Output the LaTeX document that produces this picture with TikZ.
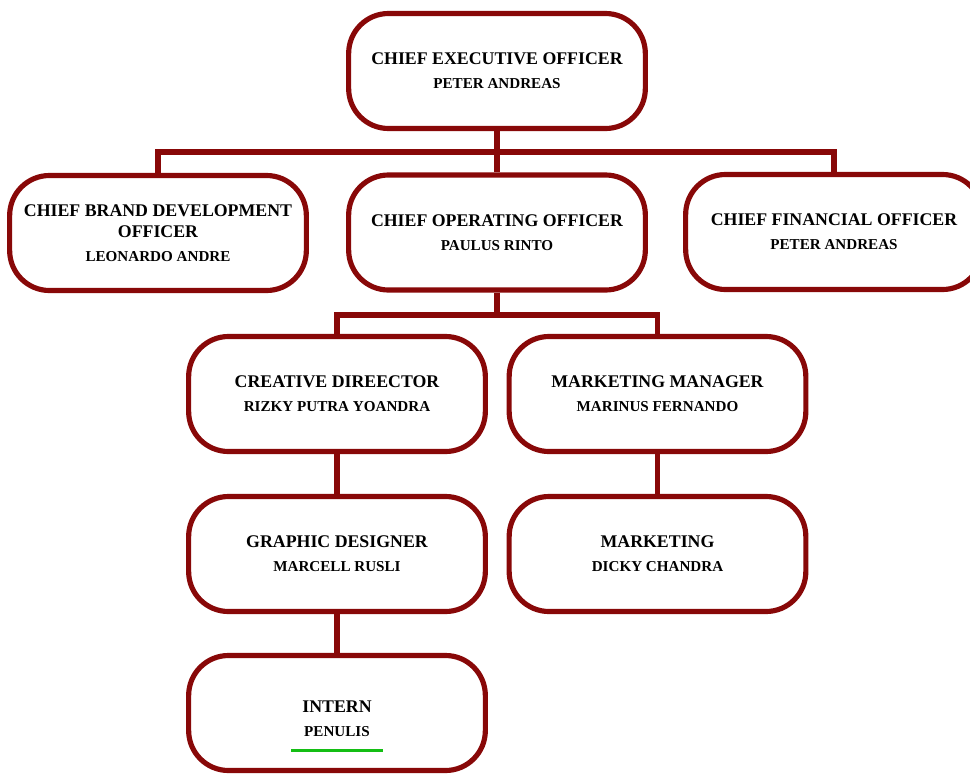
\documentclass[tikz,border=0pt]{standalone}
\usepackage{fontspec}
\setmainfont{Liberation Serif}
\usetikzlibrary{positioning}
\definecolor{boxred}{RGB}{136,8,8}
\definecolor{markgreen}{RGB}{20,190,20}
\tikzset{
  post/.style={draw=boxred, line width=4.4pt, rounded corners=34pt, fill=white,
    minimum width=8.9cm, minimum height=3.45cm, align=center, inner sep=2pt,
    font=\bfseries},
  link/.style={draw=boxred, line width=4.4pt},
}
\newcommand{\titlesize}{\fontsize{15.2}{18}\selectfont}
\newcommand{\namesize}{\fontsize{12.9}{14}\selectfont}
\newcommand{\jobtitle}[2]{\titlesize #1\\[8.5pt]\namesize #2}

\begin{document}
\begin{tikzpicture}[x=0.03cm,y=-0.03cm]
    \useasboundingbox (0,0) rectangle (970,774);
    % boxes
    \node[post] (ceo) at (497,71) {\jobtitle{CHIEF EXECUTIVE OFFICER}{PETER ANDREAS}};
    \node[post] (cbdo) at (158,233) {\jobtitle{CHIEF BRAND DEVELOPMENT\\[6pt]\titlesize OFFICER}{LEONARDO ANDRE}};
    \node[post] (coo) at (497,232.5) {\jobtitle{CHIEF OPERATING OFFICER}{PAULUS RINTO}};
    \node[post] (cfo) at (834,232) {\jobtitle{CHIEF FINANCIAL OFFICER}{PETER ANDREAS}};
    \node[post] (cd) at (337,394) {\jobtitle{CREATIVE DIREECTOR}{RIZKY PUTRA YOANDRA}};
    \node[post] (mm) at (657.5,394) {\jobtitle{MARKETING MANAGER}{MARINUS FERNANDO}};
    \node[post] (gd) at (337,554) {\jobtitle{GRAPHIC DESIGNER}{MARCELL RUSLI}};
    \node[post] (mkt) at (657.5,554) {\jobtitle{MARKETING}{DICKY CHANDRA}};
    \node[post] (intern) at (337,713) {\jobtitle{\rule{0pt}{33pt}INTERN}{PENULIS}\\[1.5pt]\textcolor{markgreen}{\rule{2.76cm}{3pt}}};
    % connectors
    \coordinate (topbus) at (497,152);
    \coordinate (midbus) at (497,315);
    \draw[link] (ceo.south) -- (topbus);
    \draw[link] (cbdo.north) |- (topbus) -| (cfo.north);
    \draw[link] (topbus) -- (coo.north);
    \draw[link] (coo.south) -- (midbus);
    \draw[link] (cd.north) |- (midbus) -| (mm.north);
    \draw[link] (cd) -- (gd);
    \draw[link] (gd) -- (intern);
    \draw[link] (mm) -- (mkt);
\end{tikzpicture}
\end{document}
